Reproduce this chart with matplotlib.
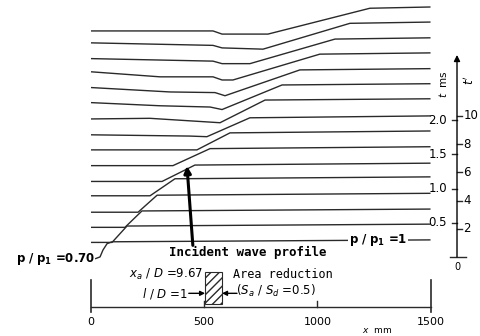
import numpy as np
import matplotlib.pyplot as plt
from matplotlib.patches import Rectangle

# time of each pressure trace (ms), bottom to top
trace_t = [0.25, 0.48, 0.70, 0.93, 1.17, 1.37, 1.61, 1.84,
           2.06, 2.31, 2.53, 2.75, 2.98, 3.20, 3.43, 3.65]

# breakpoints of each trace: position x (mm) and pressure ratio p/p1
trace_x = [
    [18, 40, 53, 71, 93, 1500],
    [0, 93, 159, 1500],
    [0, 150, 225, 1500],
    [0, 208, 292, 1500],
    [0, 261, 371, 1500],
    [0, 314, 459, 1500],
    [0, 362, 526, 1500],
    [0, 468, 614, 1500],
    [0, 437, 512, 702, 1500],
    [0, 260, 437, 570, 769, 1500],
    [0, 305, 526, 579, 844, 1500],
    [0, 349, 548, 592, 923, 1500],
    [0, 305, 539, 579, 627, 1011, 1500],
    [0, 539, 579, 702, 1078, 1500],
    [0, 539, 579, 760, 1144, 1500],
    [0, 539, 579, 782, 1232, 1500],
]
trace_p = [
    [0.70, 0.73, 0.84, 0.94, 0.97, 1.0],
    [0.71, 0.71, 0.97, 1.0],
    [0.71, 0.71, 0.97, 1.0],
    [0.70, 0.70, 0.97, 1.0],
    [0.70, 0.70, 0.97, 1.0],
    [0.71, 0.71, 0.97, 1.0],
    [0.70, 0.70, 0.97, 1.0],
    [0.70, 0.70, 0.97, 1.0],
    [0.70, 0.68, 0.67, 0.97, 1.0],
    [0.68, 0.69, 0.65, 0.62, 0.98, 1.0],
    [0.70, 0.65, 0.63, 0.59, 0.98, 1.0],
    [0.70, 0.63, 0.62, 0.57, 0.98, 1.0],
    [0.70, 0.62, 0.62, 0.57, 0.57, 0.98, 1.0],
    [0.67, 0.63, 0.59, 0.59, 0.98, 1.0],
    [0.67, 0.63, 0.59, 0.57, 0.98, 1.0],
    [0.62, 0.62, 0.57, 0.57, 0.98, 1.0],
]

x_ticks = [0, 500, 1000, 1500]
t_ticks = [0.5, 1.0, 1.5, 2.0]
tp_ticks = [2, 4, 6, 8, 10]
tp_per_ms = 4.85          # t' units per ms
orifice_x = [504, 579]    # mm, area reduction section

p_scale = 0.92   # ms of vertical offset per unit of p/p1
line_col = '#2a2a2a'

fig = plt.figure(figsize=(4.81, 3.36), dpi=100)
ax = fig.add_axes([0, 0, 1, 1])
ax.set_xlim(-402, 1723)
ax.set_ylim(-1.153, 3.752)
ax.axis('off')

# waterfall of pressure profiles
for t, xs, ps in zip(trace_t, trace_x, trace_p):
    ys = t + p_scale * (np.array(ps) - 1.0)
    ax.plot(xs, ys, color=line_col, lw=1.0, solid_capstyle='butt')

mono = 'DejaVu Sans Mono'

# labels on the first profile
ax.text(18, trace_t[0] + p_scale * (trace_p[0][0] - 1.0), r'$\mathbf{p\ /\ p_1}$ =0.70',
        ha='right', va='center', fontsize=8.5, fontweight='bold')
ax.text(1268, trace_t[0], r'$\mathbf{p\ /\ p_1}$ =1', ha='center', va='center', fontsize=8.5,
        fontweight='bold', bbox=dict(facecolor='white', edgecolor='none', pad=0.6))

ax.text(694, 0.07, 'Incident wave profile', ha='center', va='center',
        fontsize=9, family=mono, fontweight='bold')
ax.annotate('', xy=(424, 1.33), xytext=(450, 0.17),
            arrowprops=dict(arrowstyle='-|>', lw=2.2, color='k', mutation_scale=10,
                            shrinkA=0, shrinkB=0))

# x axis at the bottom
x_base = -0.73
ax.plot([x_ticks[0], x_ticks[-1]], [x_base, x_base], color=line_col, lw=1.0)
for xt in x_ticks:
    if xt in (x_ticks[0], x_ticks[-1]):
        ax.plot([xt, xt], [-0.33, -0.80], color=line_col, lw=1.2)
    else:
        ax.plot([xt, xt], [x_base + 0.09, x_base], color=line_col, lw=1.0)
    ax.text(xt, -0.95, str(xt), ha='center', va='center', fontsize=8)
ax.text(1263, -1.07, r'$x$  mm', ha='center', va='center', fontsize=6.5)

# area reduction section
ax.add_patch(Rectangle((orifice_x[0], -0.68), orifice_x[1] - orifice_x[0], 0.46,
                       facecolor='white', edgecolor=line_col, hatch='////', lw=0.8))
ax.text(495, -0.26, r'$x_a\ /\ D$ =9.67', ha='right', va='center', fontsize=8.5)
ax.text(430, -0.53, r'$l\ /\ D$ =1', ha='right', va='center', fontsize=8.5)
ax.annotate('', xy=(orifice_x[0], -0.53), xytext=(432, -0.53),
            arrowprops=dict(arrowstyle='-|>', lw=1, color='k', mutation_scale=7,
                            shrinkA=0, shrinkB=0))
ax.annotate('', xy=(orifice_x[1], -0.53), xytext=(645, -0.53),
            arrowprops=dict(arrowstyle='-|>', lw=1, color='k', mutation_scale=7,
                            shrinkA=0, shrinkB=0))
ax.text(627, -0.26, 'Area reduction', ha='left', va='center', fontsize=8.5, family=mono)
ax.text(640, -0.50, r'($S_a\ /\ S_d$ =0.5)', ha='left', va='center', fontsize=8.5)

# time axis on the right
tx = 1617
ax.annotate('', xy=(tx, 2.95), xytext=(tx, 0.0),
            arrowprops=dict(arrowstyle='-|>', lw=1, color='k', mutation_scale=9,
                            shrinkA=0, shrinkB=0))
ax.plot([tx - 32, tx + 38], [0.0, 0.0], color=line_col, lw=1.0)
ax.text(tx + 4, -0.15, '0', ha='center', va='center', fontsize=7)
for t in t_ticks:
    ax.plot([tx - 22, tx], [t, t], color=line_col, lw=1.0)
    ax.text(tx - 45, t, f'{t:.1f}', ha='right', va='center', fontsize=8.5)
for tp in tp_ticks:
    y = tp / tp_per_ms
    ax.plot([tx, tx + 22], [y, y], color=line_col, lw=1.0)
    ax.text(tx + 28, y, str(tp), ha='left', va='center', fontsize=8.5)
ax.text(tx - 60, 2.53, r'$t$  ms', ha='center', va='center', rotation=90, fontsize=7.5)
ax.text(tx + 55, 2.58, r"$t'$", ha='center', va='center', rotation=90, fontsize=8.5)

fig.savefig('out.png', dpi=100)
